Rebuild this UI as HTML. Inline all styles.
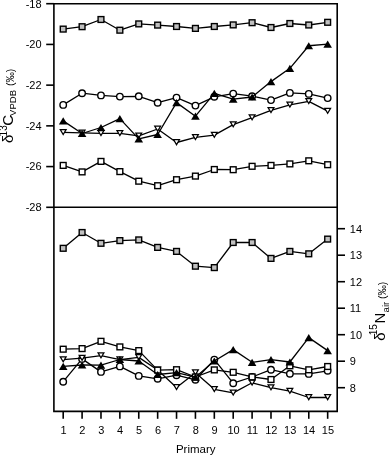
<!DOCTYPE html>
<html><head><meta charset="utf-8"><style>
html,body{margin:0;padding:0;background:#fff;}
svg{display:block;filter:grayscale(1);}
text{font-family:"Liberation Sans",sans-serif;fill:#000;}
</style></head><body>
<svg width="389" height="456" viewBox="0 0 389 456">
<rect width="389" height="456" fill="#fff"/>
<path d="M53.9 3.7H337.2V411.4H53.9Z" fill="none" stroke="#000" stroke-width="1.6"/>
<path d="M53.9 207.3H337.2" stroke="#000" stroke-width="1.6"/>
<path d="M46.2 3.7H53.9" stroke="#000" stroke-width="1.6"/>
<path d="M46.2 44.42H53.9" stroke="#000" stroke-width="1.6"/>
<path d="M46.2 85.14H53.9" stroke="#000" stroke-width="1.6"/>
<path d="M46.2 125.86H53.9" stroke="#000" stroke-width="1.6"/>
<path d="M46.2 166.58H53.9" stroke="#000" stroke-width="1.6"/>
<path d="M46.2 207.3H53.9" stroke="#000" stroke-width="1.6"/>
<path d="M337.2 387.7H345" stroke="#000" stroke-width="1.6"/>
<path d="M337.2 361.2H345" stroke="#000" stroke-width="1.6"/>
<path d="M337.2 334.7H345" stroke="#000" stroke-width="1.6"/>
<path d="M337.2 308.2H345" stroke="#000" stroke-width="1.6"/>
<path d="M337.2 281.7H345" stroke="#000" stroke-width="1.6"/>
<path d="M337.2 255.2H345" stroke="#000" stroke-width="1.6"/>
<path d="M337.2 228.7H345" stroke="#000" stroke-width="1.6"/>
<path d="M63.2 411.4V418.8" stroke="#000" stroke-width="1.6"/>
<path d="M82.09 411.4V418.8" stroke="#000" stroke-width="1.6"/>
<path d="M100.98 411.4V418.8" stroke="#000" stroke-width="1.6"/>
<path d="M119.87 411.4V418.8" stroke="#000" stroke-width="1.6"/>
<path d="M138.76 411.4V418.8" stroke="#000" stroke-width="1.6"/>
<path d="M157.65 411.4V418.8" stroke="#000" stroke-width="1.6"/>
<path d="M176.54 411.4V418.8" stroke="#000" stroke-width="1.6"/>
<path d="M195.43 411.4V418.8" stroke="#000" stroke-width="1.6"/>
<path d="M214.32 411.4V418.8" stroke="#000" stroke-width="1.6"/>
<path d="M233.21 411.4V418.8" stroke="#000" stroke-width="1.6"/>
<path d="M252.1 411.4V418.8" stroke="#000" stroke-width="1.6"/>
<path d="M270.99 411.4V418.8" stroke="#000" stroke-width="1.6"/>
<path d="M289.88 411.4V418.8" stroke="#000" stroke-width="1.6"/>
<path d="M308.77 411.4V418.8" stroke="#000" stroke-width="1.6"/>
<path d="M327.66 411.4V418.8" stroke="#000" stroke-width="1.6"/>
<g>
<polyline points="63.2,29.1 82.09,26.7 100.98,19.5 119.87,30.2 138.76,23.9 157.65,25.1 176.54,26.5 195.43,28.4 214.32,26.5 233.21,24.9 252.1,22.7 270.99,27.5 289.88,23.5 308.77,25 327.66,22.3" fill="none" stroke="#000" stroke-width="1.3" stroke-linejoin="round"/>
<rect x="60.3" y="26.2" width="5.8" height="5.8" fill="#c0c0c0" stroke="#000" stroke-width="1.4"/>
<rect x="79.19" y="23.8" width="5.8" height="5.8" fill="#c0c0c0" stroke="#000" stroke-width="1.4"/>
<rect x="98.08" y="16.6" width="5.8" height="5.8" fill="#c0c0c0" stroke="#000" stroke-width="1.4"/>
<rect x="116.97" y="27.3" width="5.8" height="5.8" fill="#c0c0c0" stroke="#000" stroke-width="1.4"/>
<rect x="135.86" y="21" width="5.8" height="5.8" fill="#c0c0c0" stroke="#000" stroke-width="1.4"/>
<rect x="154.75" y="22.2" width="5.8" height="5.8" fill="#c0c0c0" stroke="#000" stroke-width="1.4"/>
<rect x="173.64" y="23.6" width="5.8" height="5.8" fill="#c0c0c0" stroke="#000" stroke-width="1.4"/>
<rect x="192.53" y="25.5" width="5.8" height="5.8" fill="#c0c0c0" stroke="#000" stroke-width="1.4"/>
<rect x="211.42" y="23.6" width="5.8" height="5.8" fill="#c0c0c0" stroke="#000" stroke-width="1.4"/>
<rect x="230.31" y="22" width="5.8" height="5.8" fill="#c0c0c0" stroke="#000" stroke-width="1.4"/>
<rect x="249.2" y="19.8" width="5.8" height="5.8" fill="#c0c0c0" stroke="#000" stroke-width="1.4"/>
<rect x="268.09" y="24.6" width="5.8" height="5.8" fill="#c0c0c0" stroke="#000" stroke-width="1.4"/>
<rect x="286.98" y="20.6" width="5.8" height="5.8" fill="#c0c0c0" stroke="#000" stroke-width="1.4"/>
<rect x="305.87" y="22.1" width="5.8" height="5.8" fill="#c0c0c0" stroke="#000" stroke-width="1.4"/>
<rect x="324.76" y="19.4" width="5.8" height="5.8" fill="#c0c0c0" stroke="#000" stroke-width="1.4"/>
<polyline points="63.2,104.9 82.09,93.2 100.98,95.4 119.87,96.6 138.76,96.3 157.65,102.7 176.54,97.6 195.43,105.6 214.32,96.8 233.21,93.6 252.1,96.2 270.99,100.1 289.88,92.9 308.77,93.9 327.66,98.1" fill="none" stroke="#000" stroke-width="1.3" stroke-linejoin="round"/>
<circle cx="63.2" cy="104.9" r="3.25" fill="#fff" stroke="#000" stroke-width="1.4"/>
<circle cx="82.09" cy="93.2" r="3.25" fill="#fff" stroke="#000" stroke-width="1.4"/>
<circle cx="100.98" cy="95.4" r="3.25" fill="#fff" stroke="#000" stroke-width="1.4"/>
<circle cx="119.87" cy="96.6" r="3.25" fill="#fff" stroke="#000" stroke-width="1.4"/>
<circle cx="138.76" cy="96.3" r="3.25" fill="#fff" stroke="#000" stroke-width="1.4"/>
<circle cx="157.65" cy="102.7" r="3.25" fill="#fff" stroke="#000" stroke-width="1.4"/>
<circle cx="176.54" cy="97.6" r="3.25" fill="#fff" stroke="#000" stroke-width="1.4"/>
<circle cx="195.43" cy="105.6" r="3.25" fill="#fff" stroke="#000" stroke-width="1.4"/>
<circle cx="214.32" cy="96.8" r="3.25" fill="#fff" stroke="#000" stroke-width="1.4"/>
<circle cx="233.21" cy="93.6" r="3.25" fill="#fff" stroke="#000" stroke-width="1.4"/>
<circle cx="252.1" cy="96.2" r="3.25" fill="#fff" stroke="#000" stroke-width="1.4"/>
<circle cx="270.99" cy="100.1" r="3.25" fill="#fff" stroke="#000" stroke-width="1.4"/>
<circle cx="289.88" cy="92.9" r="3.25" fill="#fff" stroke="#000" stroke-width="1.4"/>
<circle cx="308.77" cy="93.9" r="3.25" fill="#fff" stroke="#000" stroke-width="1.4"/>
<circle cx="327.66" cy="98.1" r="3.25" fill="#fff" stroke="#000" stroke-width="1.4"/>
<polyline points="63.2,132.3 82.09,132.8 100.98,133.4 119.87,133.4 138.76,135.9 157.65,129 176.54,142.5 195.43,137.4 214.32,135.1 233.21,124.6 252.1,117.6 270.99,110.3 289.88,104.9 308.77,101.3 327.66,111.2" fill="none" stroke="#000" stroke-width="1.3" stroke-linejoin="round"/>
<path d="M60.29 129.53L66.11 129.53L63.2 134.47Z" fill="#fff" stroke="#000" stroke-width="1.25" stroke-linejoin="miter" stroke-miterlimit="10"/>
<path d="M79.18 130.03L85 130.03L82.09 134.97Z" fill="#fff" stroke="#000" stroke-width="1.25" stroke-linejoin="miter" stroke-miterlimit="10"/>
<path d="M98.07 130.62L103.89 130.62L100.98 135.57Z" fill="#fff" stroke="#000" stroke-width="1.25" stroke-linejoin="miter" stroke-miterlimit="10"/>
<path d="M116.96 130.62L122.78 130.62L119.87 135.57Z" fill="#fff" stroke="#000" stroke-width="1.25" stroke-linejoin="miter" stroke-miterlimit="10"/>
<path d="M135.85 133.12L141.67 133.12L138.76 138.07Z" fill="#fff" stroke="#000" stroke-width="1.25" stroke-linejoin="miter" stroke-miterlimit="10"/>
<path d="M154.74 126.22L160.56 126.22L157.65 131.17Z" fill="#fff" stroke="#000" stroke-width="1.25" stroke-linejoin="miter" stroke-miterlimit="10"/>
<path d="M173.63 139.72L179.45 139.72L176.54 144.67Z" fill="#fff" stroke="#000" stroke-width="1.25" stroke-linejoin="miter" stroke-miterlimit="10"/>
<path d="M192.52 134.62L198.34 134.62L195.43 139.57Z" fill="#fff" stroke="#000" stroke-width="1.25" stroke-linejoin="miter" stroke-miterlimit="10"/>
<path d="M211.41 132.32L217.23 132.32L214.32 137.27Z" fill="#fff" stroke="#000" stroke-width="1.25" stroke-linejoin="miter" stroke-miterlimit="10"/>
<path d="M230.3 121.83L236.12 121.83L233.21 126.77Z" fill="#fff" stroke="#000" stroke-width="1.25" stroke-linejoin="miter" stroke-miterlimit="10"/>
<path d="M249.19 114.83L255.01 114.83L252.1 119.77Z" fill="#fff" stroke="#000" stroke-width="1.25" stroke-linejoin="miter" stroke-miterlimit="10"/>
<path d="M268.08 107.53L273.9 107.53L270.99 112.47Z" fill="#fff" stroke="#000" stroke-width="1.25" stroke-linejoin="miter" stroke-miterlimit="10"/>
<path d="M286.97 102.12L292.79 102.12L289.88 107.07Z" fill="#fff" stroke="#000" stroke-width="1.25" stroke-linejoin="miter" stroke-miterlimit="10"/>
<path d="M305.86 98.53L311.68 98.53L308.77 103.47Z" fill="#fff" stroke="#000" stroke-width="1.25" stroke-linejoin="miter" stroke-miterlimit="10"/>
<path d="M324.75 108.42L330.57 108.42L327.66 113.37Z" fill="#fff" stroke="#000" stroke-width="1.25" stroke-linejoin="miter" stroke-miterlimit="10"/>
<polyline points="63.2,165.4 82.09,171.9 100.98,161.4 119.87,171.6 138.76,181.2 157.65,185.7 176.54,179.7 195.43,176.1 214.32,169.5 233.21,169.7 252.1,166.3 270.99,165.4 289.88,163.9 308.77,160.8 327.66,164.7" fill="none" stroke="#000" stroke-width="1.3" stroke-linejoin="round"/>
<rect x="60.3" y="162.5" width="5.8" height="5.8" fill="#fff" stroke="#000" stroke-width="1.4"/>
<rect x="79.19" y="169" width="5.8" height="5.8" fill="#fff" stroke="#000" stroke-width="1.4"/>
<rect x="98.08" y="158.5" width="5.8" height="5.8" fill="#fff" stroke="#000" stroke-width="1.4"/>
<rect x="116.97" y="168.7" width="5.8" height="5.8" fill="#fff" stroke="#000" stroke-width="1.4"/>
<rect x="135.86" y="178.3" width="5.8" height="5.8" fill="#fff" stroke="#000" stroke-width="1.4"/>
<rect x="154.75" y="182.8" width="5.8" height="5.8" fill="#fff" stroke="#000" stroke-width="1.4"/>
<rect x="173.64" y="176.8" width="5.8" height="5.8" fill="#fff" stroke="#000" stroke-width="1.4"/>
<rect x="192.53" y="173.2" width="5.8" height="5.8" fill="#fff" stroke="#000" stroke-width="1.4"/>
<rect x="211.42" y="166.6" width="5.8" height="5.8" fill="#fff" stroke="#000" stroke-width="1.4"/>
<rect x="230.31" y="166.8" width="5.8" height="5.8" fill="#fff" stroke="#000" stroke-width="1.4"/>
<rect x="249.2" y="163.4" width="5.8" height="5.8" fill="#fff" stroke="#000" stroke-width="1.4"/>
<rect x="268.09" y="162.5" width="5.8" height="5.8" fill="#fff" stroke="#000" stroke-width="1.4"/>
<rect x="286.98" y="161" width="5.8" height="5.8" fill="#fff" stroke="#000" stroke-width="1.4"/>
<rect x="305.87" y="157.9" width="5.8" height="5.8" fill="#fff" stroke="#000" stroke-width="1.4"/>
<rect x="324.76" y="161.8" width="5.8" height="5.8" fill="#fff" stroke="#000" stroke-width="1.4"/>
<polyline points="63.2,120.85 82.09,133.5 100.98,127.5 119.87,118.6 138.76,138.9 157.65,134.5 176.54,102.6 195.43,116.2 214.32,93.3 233.21,99.2 252.1,97 270.99,81.6 289.88,68.3 308.77,45.75 327.66,44.2" fill="none" stroke="#000" stroke-width="1.3" stroke-linejoin="round"/>
<path d="M63.2 117.25L67.5 124.45L58.9 124.45Z"/>
<path d="M82.09 129.9L86.39 137.1L77.79 137.1Z"/>
<path d="M100.98 123.9L105.28 131.1L96.68 131.1Z"/>
<path d="M119.87 115L124.17 122.2L115.57 122.2Z"/>
<path d="M138.76 135.3L143.06 142.5L134.46 142.5Z"/>
<path d="M157.65 130.9L161.95 138.1L153.35 138.1Z"/>
<path d="M176.54 99L180.84 106.2L172.24 106.2Z"/>
<path d="M195.43 112.6L199.73 119.8L191.13 119.8Z"/>
<path d="M214.32 89.7L218.62 96.9L210.02 96.9Z"/>
<path d="M233.21 95.6L237.51 102.8L228.91 102.8Z"/>
<path d="M252.1 93.4L256.4 100.6L247.8 100.6Z"/>
<path d="M270.99 78L275.29 85.2L266.69 85.2Z"/>
<path d="M289.88 64.7L294.18 71.9L285.58 71.9Z"/>
<path d="M308.77 42.15L313.07 49.35L304.47 49.35Z"/>
<path d="M327.66 40.6L331.96 47.8L323.36 47.8Z"/>
</g>
<g>
<polyline points="63.2,248.3 82.09,232.5 100.98,243.3 119.87,240.6 138.76,239.9 157.65,247.4 176.54,251.4 195.43,266.2 214.32,267.6 233.21,242.5 252.1,242.5 270.99,258.4 289.88,251.4 308.77,253.8 327.66,239.1" fill="none" stroke="#000" stroke-width="1.3" stroke-linejoin="round"/>
<rect x="60.3" y="245.4" width="5.8" height="5.8" fill="#c0c0c0" stroke="#000" stroke-width="1.4"/>
<rect x="79.19" y="229.6" width="5.8" height="5.8" fill="#c0c0c0" stroke="#000" stroke-width="1.4"/>
<rect x="98.08" y="240.4" width="5.8" height="5.8" fill="#c0c0c0" stroke="#000" stroke-width="1.4"/>
<rect x="116.97" y="237.7" width="5.8" height="5.8" fill="#c0c0c0" stroke="#000" stroke-width="1.4"/>
<rect x="135.86" y="237" width="5.8" height="5.8" fill="#c0c0c0" stroke="#000" stroke-width="1.4"/>
<rect x="154.75" y="244.5" width="5.8" height="5.8" fill="#c0c0c0" stroke="#000" stroke-width="1.4"/>
<rect x="173.64" y="248.5" width="5.8" height="5.8" fill="#c0c0c0" stroke="#000" stroke-width="1.4"/>
<rect x="192.53" y="263.3" width="5.8" height="5.8" fill="#c0c0c0" stroke="#000" stroke-width="1.4"/>
<rect x="211.42" y="264.7" width="5.8" height="5.8" fill="#c0c0c0" stroke="#000" stroke-width="1.4"/>
<rect x="230.31" y="239.6" width="5.8" height="5.8" fill="#c0c0c0" stroke="#000" stroke-width="1.4"/>
<rect x="249.2" y="239.6" width="5.8" height="5.8" fill="#c0c0c0" stroke="#000" stroke-width="1.4"/>
<rect x="268.09" y="255.5" width="5.8" height="5.8" fill="#c0c0c0" stroke="#000" stroke-width="1.4"/>
<rect x="286.98" y="248.5" width="5.8" height="5.8" fill="#c0c0c0" stroke="#000" stroke-width="1.4"/>
<rect x="305.87" y="250.9" width="5.8" height="5.8" fill="#c0c0c0" stroke="#000" stroke-width="1.4"/>
<rect x="324.76" y="236.2" width="5.8" height="5.8" fill="#c0c0c0" stroke="#000" stroke-width="1.4"/>
<polyline points="63.2,381.7 82.09,358.9 100.98,371.9 119.87,366.4 138.76,375.9 157.65,378.8 176.54,375.2 195.43,379.8 214.32,359.6 233.21,383.2 252.1,377 270.99,369.7 289.88,373.8 308.77,373.9 327.66,370.8" fill="none" stroke="#000" stroke-width="1.3" stroke-linejoin="round"/>
<circle cx="63.2" cy="381.7" r="3.25" fill="#fff" stroke="#000" stroke-width="1.4"/>
<circle cx="82.09" cy="358.9" r="3.25" fill="#fff" stroke="#000" stroke-width="1.4"/>
<circle cx="100.98" cy="371.9" r="3.25" fill="#fff" stroke="#000" stroke-width="1.4"/>
<circle cx="119.87" cy="366.4" r="3.25" fill="#fff" stroke="#000" stroke-width="1.4"/>
<circle cx="138.76" cy="375.9" r="3.25" fill="#fff" stroke="#000" stroke-width="1.4"/>
<circle cx="157.65" cy="378.8" r="3.25" fill="#fff" stroke="#000" stroke-width="1.4"/>
<circle cx="176.54" cy="375.2" r="3.25" fill="#fff" stroke="#000" stroke-width="1.4"/>
<circle cx="195.43" cy="379.8" r="3.25" fill="#fff" stroke="#000" stroke-width="1.4"/>
<circle cx="214.32" cy="359.6" r="3.25" fill="#fff" stroke="#000" stroke-width="1.4"/>
<circle cx="233.21" cy="383.2" r="3.25" fill="#fff" stroke="#000" stroke-width="1.4"/>
<circle cx="252.1" cy="377" r="3.25" fill="#fff" stroke="#000" stroke-width="1.4"/>
<circle cx="270.99" cy="369.7" r="3.25" fill="#fff" stroke="#000" stroke-width="1.4"/>
<circle cx="289.88" cy="373.8" r="3.25" fill="#fff" stroke="#000" stroke-width="1.4"/>
<circle cx="308.77" cy="373.9" r="3.25" fill="#fff" stroke="#000" stroke-width="1.4"/>
<circle cx="327.66" cy="370.8" r="3.25" fill="#fff" stroke="#000" stroke-width="1.4"/>
<polyline points="63.2,359.7 82.09,358.1 100.98,355.7 119.87,359.6 138.76,357.4 157.65,370 176.54,387.4 195.43,372.7 214.32,389.3 233.21,392.9 252.1,382.8 270.99,387.7 289.88,391.1 308.77,397.5 327.66,397.5" fill="none" stroke="#000" stroke-width="1.3" stroke-linejoin="round"/>
<path d="M60.29 356.93L66.11 356.93L63.2 361.87Z" fill="#fff" stroke="#000" stroke-width="1.25" stroke-linejoin="miter" stroke-miterlimit="10"/>
<path d="M79.18 355.33L85 355.33L82.09 360.27Z" fill="#fff" stroke="#000" stroke-width="1.25" stroke-linejoin="miter" stroke-miterlimit="10"/>
<path d="M98.07 352.93L103.89 352.93L100.98 357.87Z" fill="#fff" stroke="#000" stroke-width="1.25" stroke-linejoin="miter" stroke-miterlimit="10"/>
<path d="M116.96 356.83L122.78 356.83L119.87 361.77Z" fill="#fff" stroke="#000" stroke-width="1.25" stroke-linejoin="miter" stroke-miterlimit="10"/>
<path d="M135.85 354.62L141.67 354.62L138.76 359.57Z" fill="#fff" stroke="#000" stroke-width="1.25" stroke-linejoin="miter" stroke-miterlimit="10"/>
<path d="M154.74 367.23L160.56 367.23L157.65 372.17Z" fill="#fff" stroke="#000" stroke-width="1.25" stroke-linejoin="miter" stroke-miterlimit="10"/>
<path d="M173.63 384.62L179.45 384.62L176.54 389.57Z" fill="#fff" stroke="#000" stroke-width="1.25" stroke-linejoin="miter" stroke-miterlimit="10"/>
<path d="M192.52 369.93L198.34 369.93L195.43 374.87Z" fill="#fff" stroke="#000" stroke-width="1.25" stroke-linejoin="miter" stroke-miterlimit="10"/>
<path d="M211.41 386.53L217.23 386.53L214.32 391.47Z" fill="#fff" stroke="#000" stroke-width="1.25" stroke-linejoin="miter" stroke-miterlimit="10"/>
<path d="M230.3 390.12L236.12 390.12L233.21 395.07Z" fill="#fff" stroke="#000" stroke-width="1.25" stroke-linejoin="miter" stroke-miterlimit="10"/>
<path d="M249.19 380.03L255.01 380.03L252.1 384.97Z" fill="#fff" stroke="#000" stroke-width="1.25" stroke-linejoin="miter" stroke-miterlimit="10"/>
<path d="M268.08 384.93L273.9 384.93L270.99 389.87Z" fill="#fff" stroke="#000" stroke-width="1.25" stroke-linejoin="miter" stroke-miterlimit="10"/>
<path d="M286.97 388.33L292.79 388.33L289.88 393.27Z" fill="#fff" stroke="#000" stroke-width="1.25" stroke-linejoin="miter" stroke-miterlimit="10"/>
<path d="M305.86 394.73L311.68 394.73L308.77 399.67Z" fill="#fff" stroke="#000" stroke-width="1.25" stroke-linejoin="miter" stroke-miterlimit="10"/>
<path d="M324.75 394.73L330.57 394.73L327.66 399.67Z" fill="#fff" stroke="#000" stroke-width="1.25" stroke-linejoin="miter" stroke-miterlimit="10"/>
<polyline points="63.2,349.2 82.09,348.6 100.98,341.3 119.87,346.9 138.76,350.6 157.65,370.1 176.54,369.7 195.43,377 214.32,369.9 233.21,372.3 252.1,376.9 270.99,379.5 289.88,365.8 308.77,369.8 327.66,366.5" fill="none" stroke="#000" stroke-width="1.3" stroke-linejoin="round"/>
<rect x="60.3" y="346.3" width="5.8" height="5.8" fill="#fff" stroke="#000" stroke-width="1.4"/>
<rect x="79.19" y="345.7" width="5.8" height="5.8" fill="#fff" stroke="#000" stroke-width="1.4"/>
<rect x="98.08" y="338.4" width="5.8" height="5.8" fill="#fff" stroke="#000" stroke-width="1.4"/>
<rect x="116.97" y="344" width="5.8" height="5.8" fill="#fff" stroke="#000" stroke-width="1.4"/>
<rect x="135.86" y="347.7" width="5.8" height="5.8" fill="#fff" stroke="#000" stroke-width="1.4"/>
<rect x="154.75" y="367.2" width="5.8" height="5.8" fill="#fff" stroke="#000" stroke-width="1.4"/>
<rect x="173.64" y="366.8" width="5.8" height="5.8" fill="#fff" stroke="#000" stroke-width="1.4"/>
<rect x="192.53" y="374.1" width="5.8" height="5.8" fill="#fff" stroke="#000" stroke-width="1.4"/>
<rect x="211.42" y="367" width="5.8" height="5.8" fill="#fff" stroke="#000" stroke-width="1.4"/>
<rect x="230.31" y="369.4" width="5.8" height="5.8" fill="#fff" stroke="#000" stroke-width="1.4"/>
<rect x="249.2" y="374" width="5.8" height="5.8" fill="#fff" stroke="#000" stroke-width="1.4"/>
<rect x="268.09" y="376.6" width="5.8" height="5.8" fill="#fff" stroke="#000" stroke-width="1.4"/>
<rect x="286.98" y="362.9" width="5.8" height="5.8" fill="#fff" stroke="#000" stroke-width="1.4"/>
<rect x="305.87" y="366.9" width="5.8" height="5.8" fill="#fff" stroke="#000" stroke-width="1.4"/>
<rect x="324.76" y="363.6" width="5.8" height="5.8" fill="#fff" stroke="#000" stroke-width="1.4"/>
<polyline points="63.2,366.4 82.09,365 100.98,365.2 119.87,359.5 138.76,361 157.65,374.5 176.54,372.6 195.43,377.2 214.32,361 233.21,349.6 252.1,362.3 270.99,359.6 289.88,362 308.77,337.6 327.66,350.6" fill="none" stroke="#000" stroke-width="1.3" stroke-linejoin="round"/>
<path d="M63.2 362.8L67.5 370L58.9 370Z"/>
<path d="M82.09 361.4L86.39 368.6L77.79 368.6Z"/>
<path d="M100.98 361.6L105.28 368.8L96.68 368.8Z"/>
<path d="M119.87 355.9L124.17 363.1L115.57 363.1Z"/>
<path d="M138.76 357.4L143.06 364.6L134.46 364.6Z"/>
<path d="M157.65 370.9L161.95 378.1L153.35 378.1Z"/>
<path d="M176.54 369L180.84 376.2L172.24 376.2Z"/>
<path d="M195.43 373.6L199.73 380.8L191.13 380.8Z"/>
<path d="M214.32 357.4L218.62 364.6L210.02 364.6Z"/>
<path d="M233.21 346L237.51 353.2L228.91 353.2Z"/>
<path d="M252.1 358.7L256.4 365.9L247.8 365.9Z"/>
<path d="M270.99 356L275.29 363.2L266.69 363.2Z"/>
<path d="M289.88 358.4L294.18 365.6L285.58 365.6Z"/>
<path d="M308.77 334L313.07 341.2L304.47 341.2Z"/>
<path d="M327.66 347L331.96 354.2L323.36 354.2Z"/>
</g>
<text x="41.6" y="7.6" text-anchor="end" font-size="11">-18</text>
<text x="41.6" y="48.32" text-anchor="end" font-size="11">-20</text>
<text x="41.6" y="89.04" text-anchor="end" font-size="11">-22</text>
<text x="41.6" y="129.76" text-anchor="end" font-size="11">-24</text>
<text x="41.6" y="170.48" text-anchor="end" font-size="11">-26</text>
<text x="41.6" y="211.2" text-anchor="end" font-size="11">-28</text>
<text x="349.8" y="391.6" font-size="11">8</text>
<text x="349.8" y="365.1" font-size="11">9</text>
<text x="349.8" y="338.6" font-size="11">10</text>
<text x="349.8" y="312.1" font-size="11">11</text>
<text x="349.8" y="285.6" font-size="11">12</text>
<text x="349.8" y="259.1" font-size="11">13</text>
<text x="349.8" y="232.6" font-size="11">14</text>
<text x="63.5" y="433.9" text-anchor="middle" font-size="11">1</text>
<text x="82.39" y="433.9" text-anchor="middle" font-size="11">2</text>
<text x="101.28" y="433.9" text-anchor="middle" font-size="11">3</text>
<text x="120.17" y="433.9" text-anchor="middle" font-size="11">4</text>
<text x="139.06" y="433.9" text-anchor="middle" font-size="11">5</text>
<text x="157.95" y="433.9" text-anchor="middle" font-size="11">6</text>
<text x="176.84" y="433.9" text-anchor="middle" font-size="11">7</text>
<text x="195.73" y="433.9" text-anchor="middle" font-size="11">8</text>
<text x="214.62" y="433.9" text-anchor="middle" font-size="11">9</text>
<text x="233.51" y="433.9" text-anchor="middle" font-size="11">10</text>
<text x="252.4" y="433.9" text-anchor="middle" font-size="11">11</text>
<text x="271.29" y="433.9" text-anchor="middle" font-size="11">12</text>
<text x="290.18" y="433.9" text-anchor="middle" font-size="11">13</text>
<text x="309.07" y="433.9" text-anchor="middle" font-size="11">14</text>
<text x="327.96" y="433.9" text-anchor="middle" font-size="11">15</text>
<text x="195.7" y="453.2" text-anchor="middle" font-size="11.5">Primary</text>
<text transform="translate(13.0,143.0) rotate(-90)" font-size="15">δ</text>
<text transform="translate(6.8,136.4) rotate(-90)" font-size="10">13</text>
<text transform="translate(13.1,125.8) rotate(-90)" font-size="15">C</text>
<text transform="translate(16.3,115.9) rotate(-90)" font-size="9.5">VPDB</text>
<text transform="translate(14.3,86.0) rotate(-90)" font-size="10.4">(‰)</text>
<text transform="translate(385.3,340.8) rotate(-90)" font-size="15">δ</text>
<text transform="translate(377.2,335.3) rotate(-90)" font-size="10">15</text>
<text transform="translate(385.2,323.4) rotate(-90)" font-size="15">N</text>
<text transform="translate(388.6,312.4) rotate(-90)" font-size="9.5">air</text>
<text transform="translate(385.8,299.0) rotate(-90)" font-size="10.4">(‰)</text>
</svg>
</body></html>
